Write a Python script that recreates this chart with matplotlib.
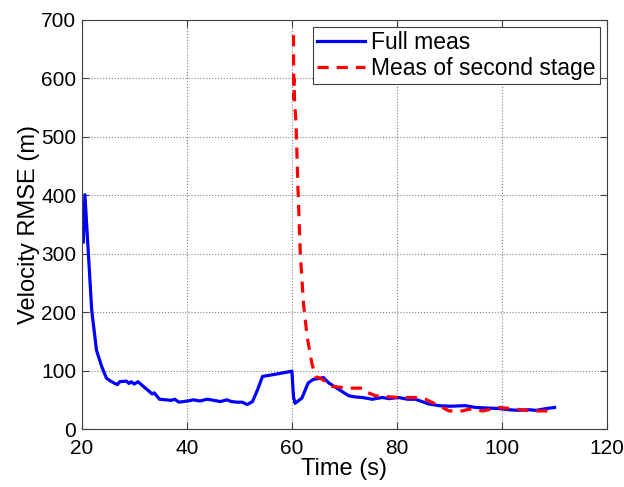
import matplotlib
matplotlib.use('Agg')
import matplotlib.pyplot as plt

plt.rcParams['font.family'] = ['Liberation Sans', 'DejaVu Sans']

# Full measurement RMSE (blue)
t_full = [20.3, 20.6, 21.9, 22.5, 22.8, 23.8, 24.7, 25.5, 26.3, 26.8, 27.2, 28.5, 29.0, 29.4,
          30.0, 30.7, 31.6, 32.9, 33.4, 33.8, 34.8, 36.1, 37.0, 37.7, 38.5, 39.3, 40.2,
          41.2, 42.5, 43.8, 44.6, 46.4, 47.6, 48.5, 49.6, 50.5, 51.5, 52.5,
          53.5, 54.4, 57.0, 60.0, 60.3, 60.6, 61.9, 63.1, 64.1, 66.0, 67.0, 68.9, 70.8,
          72.0, 73.4, 75.3, 77.2, 78.5, 80.3, 82.0, 83.5, 86.0, 88.0, 90.0, 93.0, 94.9,
          97.0, 99.5, 101.4, 103.0, 105.2, 106.5, 108.4, 110.0]
rmse_full = [320, 401, 203, 158, 135, 107, 87, 82, 78, 76, 81, 82, 78, 81,
             77, 81, 74, 64, 60, 62, 51, 50, 49, 51, 46, 47, 48,
             50, 48, 51, 50, 47, 50, 47, 46, 46, 42, 47,
             68, 90, 94, 99, 55, 44, 53, 79, 85, 88, 79, 68, 57,
             55, 54, 51, 54, 52, 54, 51, 51, 43, 40, 39, 40, 37,
             36, 35, 33, 32, 33, 32, 35, 37]

# Second-stage measurement RMSE (red dashed)
t_second = [60.3, 60.35, 60.4, 60.5, 60.77, 61.15, 61.6, 62.2, 62.9, 63.8, 64.5, 65.8,
            67.7, 70.8, 73.4, 74.0, 75.9, 80.3, 83.5, 85.4, 88.0, 89.9, 92.4, 93.7,
            96.3, 99.5, 102.7, 105.9, 108.5, 110.0]
rmse_second = [674, 565, 600, 560, 527, 413, 300, 215, 158, 112, 90, 85,
               73, 70, 70, 64, 57, 54, 54, 51, 40, 31, 31, 34,
               31, 37, 34, 31, 31, 34]

fig = plt.figure(figsize=(6.24, 4.87), dpi=100)
ax = fig.add_axes([0.131, 0.119, 0.842, 0.840])

ax.plot(t_full, rmse_full, color='#0000ff', lw=2.3, label='Full meas')
ax.plot(t_second, rmse_second, color='#ff0000', lw=2.3, ls=(0, (3.5, 2.5)),
        label='Meas of second stage')

ax.set_xlim(20, 120)
ax.set_ylim(0, 700)
ax.set_xticks(range(20, 121, 20))
ax.set_yticks(range(0, 701, 100))
ax.grid(True, ls=':', color='#808080', lw=0.8)
ax.tick_params(direction='in', top=True, right=True, labelsize=15, length=5,
               color='#404040')
ax.tick_params(axis='x', pad=7)
ax.tick_params(axis='y', pad=4)
for s in ax.spines.values():
    s.set_color('#404040')

ax.set_xlabel('Time (s)', fontsize=17, labelpad=0)
ax.set_ylabel('Velocity RMSE (m)', fontsize=17, labelpad=1)

leg = ax.legend(loc='upper right', fontsize=16.5, fancybox=False, framealpha=1,
                edgecolor='#404040', borderpad=0.2, labelspacing=0.1,
                handlelength=2.1, handletextpad=0.25, borderaxespad=0.3)
leg.get_frame().set_linewidth(0.8)

fig.savefig('out.png', dpi=100)
